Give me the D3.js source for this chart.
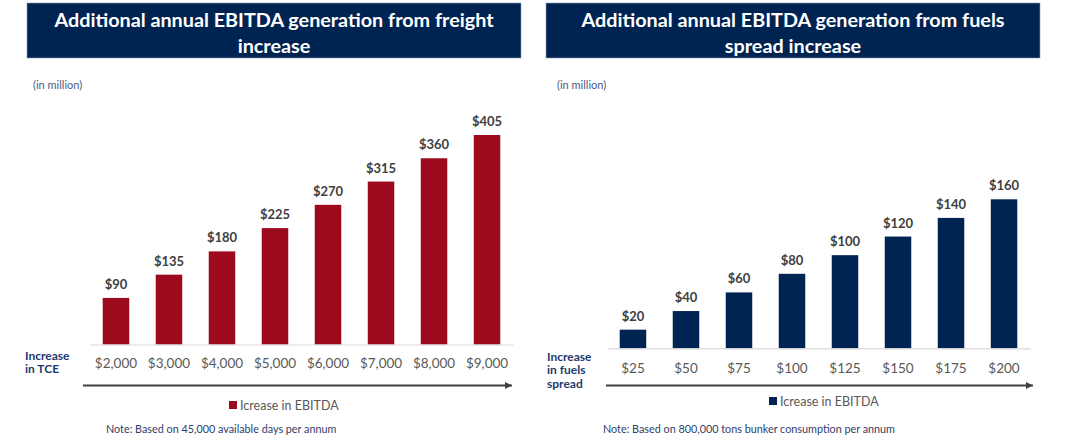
<!DOCTYPE html>
<html>
<head>
<meta charset="utf-8">
<script src="https://cdnjs.cloudflare.com/ajax/libs/d3/7.8.5/d3.min.js"></script>
<style>
  body { margin: 0; background: #fff; }
  svg { display: block; font-family: Lato, "Liberation Sans", sans-serif; }
</style>
</head>
<body>
<div id="chart"></div>
<script>
// data
var freightTitle = ["Additional annual EBITDA generation from freight", "increase"];
var freightTicks = ["$2,000", "$3,000", "$4,000", "$5,000", "$6,000", "$7,000", "$8,000", "$9,000"];
var freightValues = [90, 135, 180, 225, 270, 315, 360, 405];
var freightAxisLabel = ["Increase", "in TCE"];
var freightNote = "Note: Based on 45,000 available days per annum";

var fuelsTitle = ["Additional annual EBITDA generation from fuels", "spread increase"];
var fuelsTicks = ["$25", "$50", "$75", "$100", "$125", "$150", "$175", "$200"];
var fuelsValues = [20, 40, 60, 80, 100, 120, 140, 160];
var fuelsAxisLabel = ["Increase", "in fuels", "spread"];
var fuelsNote = "Note: Based on 800,000 tons bunker consumption per annum";

var legendLabel = "Icrease in EBITDA";
var unitLabel = "(in million)";

var navy = "#002452";
var svg = d3.select("#chart").append("svg")
	.attr("width", 1065)
	.attr("height", 440);

var defs = svg.append("defs");
defs.append("marker")
	.attr("id", "arrowHead")
	.attr("viewBox", "0 0 10 10")
	.attr("refX", 10)
	.attr("refY", 5)
	.attr("markerWidth", 9)
	.attr("markerHeight", 7)
	.attr("markerUnits", "userSpaceOnUse")
	.attr("orient", "auto")
	.append("path")
	.attr("d", "M0,0L10,5L0,10Z")
	.attr("fill", "#404040");

function drawPanel(opts) {
	var g = svg.append("g").attr("class", "panel");

	// title banner
	g.append("rect")
		.attr("x", opts.box[0])
		.attr("y", 3)
		.attr("width", opts.box[1] - opts.box[0])
		.attr("height", 55)
		.attr("fill", navy)
		.attr("stroke", "#8a9bb8")
		.attr("stroke-width", 0.6);
	var mid = (opts.box[0] + opts.box[1]) / 2;
	g.selectAll(".title")
		.data(opts.title)
		.enter().append("text")
		.attr("class", "title")
		.attr("x", mid)
		.attr("y", function(d, i) { return 27 + i * 25.5; })
		.attr("text-anchor", "middle")
		.attr("fill", "#fff")
		.style("font-size", "19.8px")
		.style("font-weight", "bold")
		.text(function(d) { return d; });

	g.append("text")
		.attr("x", opts.unitX)
		.attr("y", 89)
		.attr("fill", "#4a5a85")
		.style("font-size", "11px")
		.text(unitLabel);

	var x = d3.scaleBand()
		.domain(opts.ticks)
		.range(opts.xRange)
		.paddingInner(0.5)
		.paddingOuter(0.24);
	var y = d3.scaleLinear()
		.domain([0, d3.max(opts.values)])
		.range(opts.yRange);
	var base = opts.yRange[0];

	var bars = opts.ticks.map(function(t, i) { return { tick: t, value: opts.values[i] }; });

	g.selectAll(".bar")
		.data(bars)
		.enter().append("rect")
		.attr("class", "bar")
		.attr("x", function(d) { return x(d.tick); })
		.attr("width", x.bandwidth())
		.attr("y", function(d) { return y(d.value); })
		.attr("height", function(d) { return base - y(d.value); })
		.attr("fill", opts.color);

	g.selectAll(".valueLabel")
		.data(bars)
		.enter().append("text")
		.attr("class", "valueLabel")
		.attr("x", function(d) { return x(d.tick) + x.bandwidth() / 2; })
		.attr("y", function(d) { return y(d.value) - 9; })
		.attr("text-anchor", "middle")
		.attr("fill", "#404040")
		.style("font-size", "13px")
		.style("font-weight", "bold")
		.text(function(d) { return "$" + d.value; });

	// category axis
	var axis = g.append("g")
		.attr("transform", "translate(0," + base + ")")
		.call(d3.axisBottom(x).tickSize(0).tickPadding(opts.tickPad));
	axis.select(".domain")
		.attr("stroke", "#d9d9d9")
		.attr("stroke-width", 1.2);
	axis.selectAll("text")
		.attr("fill", "#595959")
		.style("font-size", "13.5px")
		.style("font-family", "Lato, sans-serif");

	g.selectAll(".axisLabel")
		.data(opts.axisLabel)
		.enter().append("text")
		.attr("class", "axisLabel")
		.attr("x", opts.labelX)
		.attr("y", function(d, i) { return opts.labelY + i * 13.5; })
		.attr("fill", "#1f3a70")
		.style("font-size", "12px")
		.style("font-weight", "bold")
		.text(function(d) { return d; });

	// direction arrow
	g.append("line")
		.attr("x1", opts.arrow[0])
		.attr("x2", opts.arrow[1])
		.attr("y1", 385.5)
		.attr("y2", 385.5)
		.attr("stroke", "#404040")
		.attr("stroke-width", 2)
		.attr("marker-end", "url(#arrowHead)");

	// legend
	var leg = g.append("g").attr("transform", "translate(" + opts.legend[0] + "," + opts.legend[1] + ")");
	leg.append("rect")
		.attr("x", 0)
		.attr("y", -4)
		.attr("width", 8)
		.attr("height", 8)
		.attr("fill", opts.color);
	leg.append("text")
		.attr("x", 11)
		.attr("y", 4.5)
		.attr("fill", "#595959")
		.style("font-size", "12.5px")
		.text(legendLabel);

	g.append("text")
		.attr("x", opts.noteX)
		.attr("y", 432.5)
		.attr("fill", "#2f4068")
		.style("font-size", "10.8px")
		.text(opts.note);
}

drawPanel({
	title: freightTitle, ticks: freightTicks, values: freightValues,
	axisLabel: freightAxisLabel, note: freightNote,
	color: "#9b0a1d",
	box: [27, 521], unitX: 33,
	xRange: [90, 513], yRange: [344.5, 135], tickPad: 14,
	labelX: 25, labelY: 359.5,
	arrow: [83, 512], legend: [229, 405], noteX: 106
});

drawPanel({
	title: fuelsTitle, ticks: fuelsTicks, values: fuelsValues,
	axisLabel: fuelsAxisLabel, note: fuelsNote,
	color: navy,
	box: [546, 1040], unitX: 557,
	xRange: [607, 1030], yRange: [348.3, 199.3], tickPad: 15,
	labelX: 547, labelY: 360.5,
	arrow: [606, 1033], legend: [769, 401], noteX: 603
});
</script>
</body>
</html>
